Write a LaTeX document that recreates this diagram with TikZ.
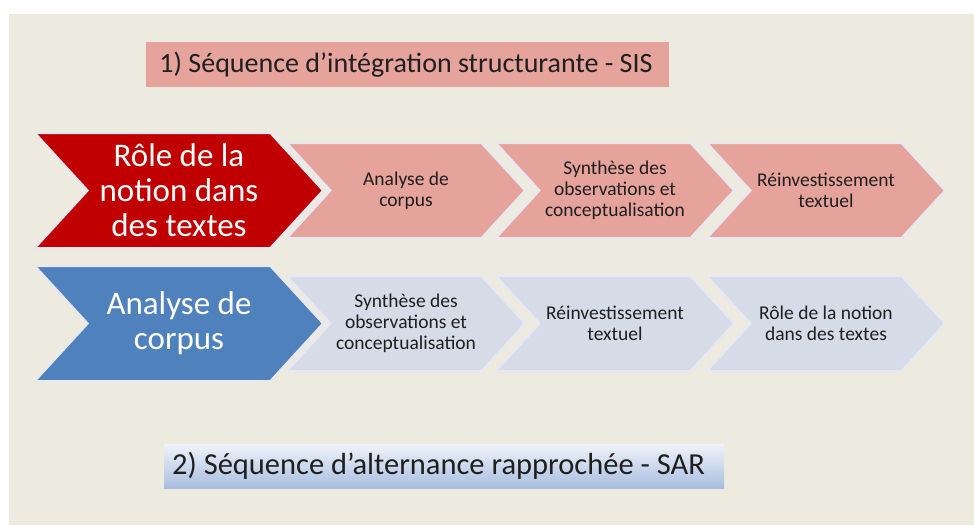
\documentclass[tikz,border=0pt]{standalone}
\usepackage{fontspec}
\setmainfont{Carlito}
\usetikzlibrary{shapes.symbols}

\definecolor{paper}{RGB}{237,234,224}
\definecolor{sisred}{RGB}{192,0,0}
\definecolor{sispink}{RGB}{229,163,156}
\definecolor{sarblue}{RGB}{79,129,189}
\definecolor{sargrey}{RGB}{214,219,232}
\definecolor{sartop}{RGB}{240,243,250}
\definecolor{sarbottom}{RGB}{168,190,223}
\definecolor{rim}{RGB}{231,232,242}

\tikzset{
  chevron/.style={signal, signal from=west, signal to=east,
    signal pointer angle=95, draw=rim, line width=2pt,
    inner sep=0pt, align=center},
  lead/.style={chevron, minimum width=288pt, minimum height=115pt,
    text=white, font=\fontsize{33}{35}\selectfont},
  stage/.style={chevron, minimum width=238pt, minimum height=95pt,
    text=black!88, font=\fontsize{19.5}{21}\selectfont},
  banner/.style={inner sep=0pt, text=black!88},
}

\begin{document}
\begin{tikzpicture}[x=1pt,y=-1pt]
  \useasboundingbox (0,0) rectangle (974,525);
  \fill[white] (0,0) rectangle (974,525);
  \fill[paper] (9,14) rectangle (974,525);

  % titres
  \node[banner, fill=sispink, minimum width=523pt, minimum height=45pt,
    font=\fontsize{28}{32}\selectfont] (sisTitle) at (407.5,64.5)
    {\hspace*{-3pt}1) Séquence d’intégration structurante - SIS};
  \node[banner, top color=sartop, bottom color=sarbottom,
    minimum width=560pt, minimum height=44pt,
    font=\fontsize{30.5}{34}\selectfont] (sarTitle) at (444,466)
    {2) Séquence d’alternance rapprochée - SAR\hspace*{11pt}};

  % SIS
  \node[lead, fill=sisred] (sisLead) at (179,190.5)
    {Rôle de la\\notion dans\\des textes};
  \foreach \x/\txt [count=\i] in {406/{Analyse de\\corpus},
      615/{Synthèse des\\observations et\\conceptualisation},
      826/{Réinvestissement\\textuel}}{
    \node[stage, fill=sispink] (sis\i) at (\x,190.5) {\txt};
  }

  % SAR
  \node[lead, fill=sarblue] (sarLead) at (179,323.5)
    {Analyse de\\corpus};
  \foreach \x/\txt [count=\i] in {406/{Synthèse des\\observations et\\conceptualisation},
      615/{Réinvestissement\\textuel},
      826/{Rôle de la notion\\dans des textes}}{
    \node[stage, fill=sargrey] (sar\i) at (\x,323.5) {\txt};
  }
\end{tikzpicture}
\end{document}
